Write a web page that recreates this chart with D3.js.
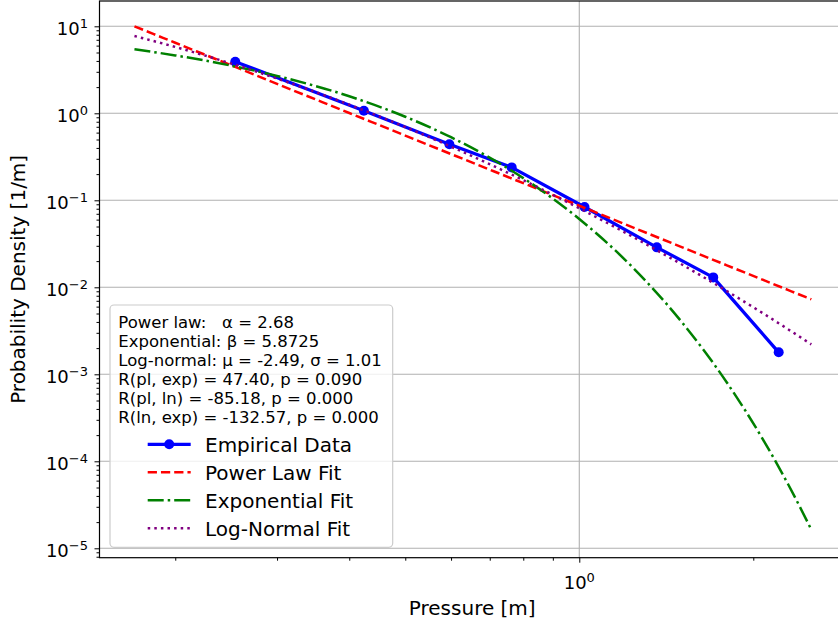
<!DOCTYPE html>
<html>
<head>
<meta charset="utf-8">
<script src="https://cdn.jsdelivr.net/npm/d3@7"></script>
<style>
  html, body { margin: 0; padding: 0; background: #fff; }
  svg { display: block; font-family: "DejaVu Sans", sans-serif; }
  text { white-space: pre; }
</style>
</head>
<body>
<svg id="chart" width="838" height="625"></svg>
<script>
// ---------------- data ----------------
const empiricalX = [0.254, 0.424, 0.596, 0.764, 1.021, 1.362, 1.705, 2.213];
const empiricalY = [3.92, 1.071, 0.440, 0.239, 0.0838, 0.0288, 0.0130, 0.00179];

const fitX        = [0.17, 0.2, 0.25, 0.3, 0.4, 0.5, 0.6, 0.8, 1.0, 1.2, 1.5, 1.8, 2.1, 2.3, 2.52];
const powerLawY   = [10, 6.47, 3.56, 2.18, 1.009, 0.555, 0.340, 0.1575, 0.0866, 0.0531, 0.0292, 0.0179, 0.01186, 0.00929, 0.00727];
const exponentialY= [5.44, 4.63, 3.53, 2.69, 1.57, 0.913, 0.531, 0.180, 0.0610, 0.0207, 0.00408, 0.000805, 0.000159, 0.0000538, 0.0000164];
const logNormalY  = [7.74, 5.79, 3.73, 2.51, 1.257, 0.695, 0.4135, 0.1704, 0.0810, 0.0426, 0.01852, 0.00905, 0.00482, 0.00328, 0.00221];

const xMajorTicks = [1];
const xMajorExps  = ["0"];
const xMinorTicks = [0.2, 0.3, 0.4, 0.5, 0.6, 0.7, 0.8, 0.9, 2, 3];
const yMajorTicks = [1e-5, 1e-4, 1e-3, 1e-2, 1e-1, 1, 10];
const yMajorExps  = ["\u22125", "\u22124", "\u22123", "\u22122", "\u22121", "0", "1"];

const seriesNames = ["Empirical Data", "Power Law Fit", "Exponential Fit", "Log-Normal Fit"];
const statsLines = [
  "Power law:   \u03b1 = 2.68",
  "Exponential: \u03b2 = 5.8725",
  "Log-normal: \u03bc = -2.49, \u03c3 = 1.01",
  "R(pl, exp) = 47.40, p = 0.090",
  "R(pl, ln) = -85.18, p = 0.000",
  "R(ln, exp) = -132.57, p = 0.000"
];
const xLabel = "Pressure [m]";
const yLabel = "Probability Density [1/m]";

// ---------------- layout ----------------
const L = 99.5, R = 845, T = 1, B = 557.7;
const svg = d3.select("#chart");

const x = d3.scaleLog().domain([0.1479, 2.882]).range([L, R]);
const y = d3.scaleLog().domain([7.8e-6, 19.54]).range([B, T]);

const yMinorTicks = [];
for (let e = -6; e <= 1; e++) for (let m = 2; m <= 9; m++) {
  const v = m * Math.pow(10, e);
  if (v >= y.domain()[0] && v <= y.domain()[1]) yMinorTicks.push(v);
}

// grid
const grid = svg.append("g").attr("stroke", "#b0b0b0").attr("stroke-width", 1.1);
yMajorTicks.forEach(v => grid.append("line")
  .attr("x1", L).attr("x2", R).attr("y1", y(v)).attr("y2", y(v)));
xMajorTicks.forEach(v => grid.append("line")
  .attr("x1", x(v)).attr("x2", x(v)).attr("y1", T).attr("y2", B));

// axes ticks
const gy = svg.append("g").attr("transform", `translate(${L},0)`);
gy.call(d3.axisLeft(y).tickValues(yMajorTicks).tickSize(5).tickFormat(""));
const gy2 = svg.append("g").attr("transform", `translate(${L},0)`);
gy2.call(d3.axisLeft(y).tickValues(yMinorTicks).tickSize(3).tickFormat(""));
const gx = svg.append("g").attr("transform", `translate(0,${B})`);
gx.call(d3.axisBottom(x).tickValues(xMajorTicks).tickSize(5).tickFormat(""));
const gx2 = svg.append("g").attr("transform", `translate(0,${B})`);
gx2.call(d3.axisBottom(x).tickValues(xMinorTicks.filter(v => v <= x.domain()[1])).tickSize(3).tickFormat(""));
[gy, gy2, gx, gx2].forEach(g => {
  g.select(".domain").remove();
  g.selectAll(".tick line").attr("stroke", "#000").attr("stroke-width", 1);
});

// tick labels
yMajorTicks.forEach((v, i) => {
  const t = svg.append("text").attr("x", 88).attr("y", y(v) + 9)
    .attr("text-anchor", "end").attr("font-size", 18).attr("fill", "#000");
  t.append("tspan").text("10");
  t.append("tspan").attr("dy", -7).attr("font-size", 13).text(yMajorExps[i]);
});
xMajorTicks.forEach((v, i) => {
  const t = svg.append("text").attr("x", x(v)).attr("y", B + 31)
    .attr("text-anchor", "middle").attr("font-size", 18).attr("fill", "#000");
  t.append("tspan").text("10");
  t.append("tspan").attr("dy", -7).attr("font-size", 13).text(xMajorExps[i]);
});

// axis labels
svg.append("text").attr("x", (L + R) / 2).attr("y", 615).attr("text-anchor", "middle")
  .attr("font-size", 20).attr("fill", "#000").text(xLabel);
svg.append("text").attr("transform", `translate(25,${(T + B) / 2}) rotate(-90)`)
  .attr("text-anchor", "middle").attr("font-size", 20).attr("fill", "#000").text(yLabel);

// series
const line = d3.line().x(d => x(d[0])).y(d => y(d[1]));
const smooth = d3.line().x(d => x(d[0])).y(d => y(d[1])).curve(d3.curveMonotoneX);
const emp = d3.zip(empiricalX, empiricalY);

const styles = [
  { color: "#0000ff", width: 3.3, dash: null },
  { color: "#ff0000", width: 2.5, dash: "9.25,4" },
  { color: "#008000", width: 2.5, dash: "16,4,2.5,4" },
  { color: "#800080", width: 2.5, dash: "2.5,4.1" }
];

svg.append("path").datum(emp).attr("d", line).attr("fill", "none")
  .attr("stroke", styles[0].color).attr("stroke-width", styles[0].width).attr("stroke-linejoin", "round");
svg.append("g").selectAll("circle").data(emp).join("circle")
  .attr("cx", d => x(d[0])).attr("cy", d => y(d[1])).attr("r", 5).attr("fill", styles[0].color);

[powerLawY, exponentialY, logNormalY].forEach((ys, i) => {
  const s = styles[i + 1];
  svg.append("path").datum(d3.zip(fitX, ys)).attr("d", smooth).attr("fill", "none")
    .attr("stroke", s.color).attr("stroke-width", s.width).attr("stroke-dasharray", s.dash);
});

// spines
svg.append("rect").attr("x", L).attr("y", T).attr("width", R - L).attr("height", B - T)
  .attr("fill", "none").attr("stroke", "#000").attr("stroke-width", 1.2);

// legend
const lg = svg.append("g");
lg.append("rect").attr("x", 110).attr("y", 305).attr("width", 282.7).attr("height", 242.3)
  .attr("rx", 4).attr("fill", "#fff").attr("fill-opacity", 0.8)
  .attr("stroke", "#cccccc").attr("stroke-width", 1.2);
statsLines.forEach((s, i) => {
  lg.append("text").attr("x", 118.3).attr("y", 327.5 + i * 19).attr("font-size", 16.5)
    .attr("fill", "#000").text(s);
});
seriesNames.forEach((n, i) => {
  const cy = 444.3 + i * 28;
  const s = styles[i];
  lg.append("line").attr("x1", 147.7).attr("x2", 190.7).attr("y1", cy).attr("y2", cy)
    .attr("stroke", s.color).attr("stroke-width", s.width).attr("stroke-dasharray", s.dash);
  if (i === 0) lg.append("circle").attr("cx", 169.2).attr("cy", cy).attr("r", 5).attr("fill", s.color);
  lg.append("text").attr("x", 205).attr("y", cy + 7.3).attr("font-size", 20).attr("fill", "#000").text(n);
});
</script>
</body>
</html>
